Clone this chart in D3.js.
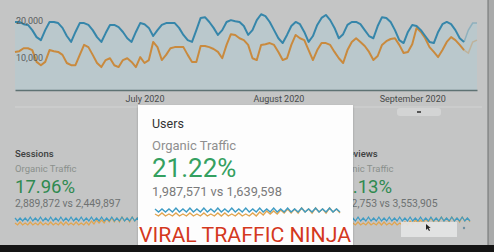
<!DOCTYPE html>
<html>
<head>
<meta charset="utf-8">
<script src="https://cdnjs.cloudflare.com/ajax/libs/d3/7.8.5/d3.min.js"></script>
<style>
    html, body { margin: 0; padding: 0; background: #c4c5c5; overflow: hidden; }
    #chart { width: 494px; height: 252px; }
    text { font-family: Roboto, "Noto Sans", sans-serif; }
</style>
</head>
<body>
<div id="chart"></div>
<script>

// ---- data ----
const startDay = "2020-06-01";
const endDay = "2020-09-16";
const monthTicks = ["2020-07-01", "2020-08-01", "2020-09-01"];
const yTicks = [10000, 20000];

// daily users, this period (blue) and previous period (orange)
const usersCurrent = [20300,20300,19700,19500,18100,16200,15400,18100,20300,20300,
    20000,18700,16500,14900,17600,20000,20000,19500,18100,16200,
    14900,17300,19500,19500,18900,17600,15900,14900,17600,20000,
    19700,18700,16500,18100,19500,20000,20000,20000,18700,16800,
    15400,14900,18100,21400,21600,20300,18700,16800,18100,20300,
    20800,20500,20300,19200,16800,18100,20800,22400,21900,20300,
    18100,15900,14600,16800,19200,20300,19700,17600,14900,16500,
    19500,21400,22200,20800,18700,15900,17000,19500,20300,20300,
    19700,18100,16500,15900,19200,21600,21400,20300,18100,15400,
    14600,17600,19500,19200,18100,16500,14900,14600,17600,19700,
    20300,19700,18100,15900,14900,18100,20000,20000];
const usersPrevious = [12200,12400,13200,13200,12700,9500,8600,9500,12700,12400,
    12200,11400,9200,8600,8600,11400,14100,13500,11400,9200,
    8100,10000,10500,8600,8100,10000,10500,9500,8100,10800,
    9200,10000,14900,13500,10000,11400,13200,13500,13500,13500,
    11400,9500,9500,13800,13800,13500,13000,12200,10500,14100,
    17000,16800,15900,15400,14100,10500,10000,14100,14300,14600,
    14100,12200,10000,10500,14100,16800,15900,15400,12700,10000,
    12700,14600,14600,14100,12200,10500,9200,12700,14900,15900,
    14900,13800,12200,10000,11100,14100,15100,15700,15900,14100,
    11900,12200,14300,18700,17600,15900,13500,12200,10800,12700,
    14900,16200,15400,14100,12700,11900,14900,15400];
const completeDays = 105; // the last days are still partial (faded)

// sparklines in the metric cards
const sparkCurrent = [19,16,19,16,19,16,20,16,19,16,20,16,19,16,20,16,19,16,20,16,
    19,16,20,16,19,16,20,16,19,16,20,16,19,16,20,16,19,16,20,16,
    19,16,20,16,19,16,20,16,19,16,20,16,19,16];
const sparkPrevious = [14,12,15,12,14,12,15,12,14,12,15,12,14,12,15,12,14,12,15,12,
    15,12,14,12,15,12,14,12,15,12,16,13,17,14,17,14,18,15,19,15,
    19,15,20,16,19,15,20,16,19,15,20,16,19,15];

const metricNames = ["Sessions", "Users", "Pageviews"];
const metricSegment = ["Organic Traffic", "Organic Traffic", "Organic Traffic"];
const metricChange = ["17.96%", "21.22%", "23.13%"];
const metricCompare = ["2,889,872 vs 2,449,897", "1,987,571 vs 1,639,598", "4,372,753 vs 3,553,905"];


class TrafficVis {

    constructor(parentElement) {
        this.parentElement = parentElement;
        this.initVis();
    }

    initVis() {
        let vis = this;
        vis.width = 494;
        vis.height = 252;

        vis.svg = d3.select("#" + vis.parentElement).append("svg")
            .attr("width", vis.width)
            .attr("height", vis.height);

        let defs = vis.svg.append("defs");
        defs.append("filter").attr("id", "shadow")
            .attr("x", "-10%").attr("y", "-10%").attr("width", "120%").attr("height", "120%")
            .append("feDropShadow")
            .attr("dx", 0).attr("dy", 1).attr("stdDeviation", 1.2)
            .attr("flood-color", "#000").attr("flood-opacity", 0.25);

        let parse = d3.timeParse("%Y-%m-%d");
        let start = parse(startDay);
        vis.data = usersCurrent.map((v, i) => ({
            date: d3.timeDay.offset(start, i),
            current: v,
            previous: usersPrevious[i]
        }));

        vis.x = d3.scaleTime()
            .domain([start, parse(endDay)])
            .range([15, 477]);

        vis.y = d3.scaleLinear()
            .domain([1900, 23000])
            .range([90, 12]);

        vis.monthDates = monthTicks.map(parse);

        vis.drawMain();
        vis.drawPanels();
        vis.drawFrame();
    }

    drawMain() {
        let vis = this;

        let area = d3.area()
            .x(d => vis.x(d.date))
            .y0(vis.y.range()[0])
            .y1(d => vis.y(d.current));

        vis.svg.append("path")
            .datum(vis.data)
            .attr("d", area)
            .attr("fill", "#bac8cc");

        // separator under the month labels
        vis.svg.append("line")
            .attr("x1", 15).attr("x2", 482)
            .attr("y1", 107).attr("y2", 107)
            .attr("stroke", "#d2d3d3")
            .attr("stroke-width", 1);

        let line = (key) => d3.line()
            .x(d => vis.x(d.date))
            .y(d => vis.y(d[key]));

        let solid = vis.data.slice(0, completeDays);
        let partial = vis.data.slice(completeDays - 1);

        [["previous", "#c98a3e"], ["current", "#3686aa"]].forEach(([key, color]) => {
            vis.svg.append("path")
                .datum(solid)
                .attr("d", line(key))
                .attr("fill", "none")
                .attr("stroke", color)
                .attr("stroke-width", 2)
                .attr("stroke-linejoin", "round");

            vis.svg.append("path")
                .datum(partial)
                .attr("d", line(key))
                .attr("fill", "none")
                .attr("stroke", color)
                .attr("stroke-opacity", 0.35)
                .attr("stroke-width", 1.5);
        });

        // x axis
        let xAxis = d3.axisBottom(vis.x)
            .tickValues(vis.monthDates)
            .tickSize(0)
            .tickPadding(6)
            .tickFormat(d3.timeFormat("%B %Y"));

        let gx = vis.svg.append("g")
            .attr("class", "xAxis")
            .attr("transform", `translate(0, ${vis.y.range()[0]})`)
            .call(xAxis);
        gx.select(".domain")
            .attr("stroke", "#5e7273")
            .attr("stroke-width", 1.5);
        gx.selectAll("text")
            .attr("fill", "#474a4a")
            .style("font-size", "9px");

        // y axis labels sit inside the plot
        let yAxis = d3.axisLeft(vis.y)
            .tickValues(yTicks)
            .tickSize(0)
            .tickFormat(d3.format(","));

        let gy = vis.svg.append("g")
            .attr("class", "yAxis")
            .attr("transform", "translate(16, 0)")
            .call(yAxis);
        gy.select(".domain").remove();
        gy.selectAll("text")
            .attr("x", 0)
            .attr("dy", "0.1em")
            .attr("text-anchor", "start")
            .attr("fill", "#5a5d5d")
            .style("font-size", "9px");

        // small scroll handle under september
        vis.svg.append("rect")
            .attr("x", 397).attr("y", 108)
            .attr("width", 44).attr("height", 8)
            .attr("rx", 3)
            .attr("fill", "#d3d4d4");
        vis.svg.append("rect")
            .attr("x", 417).attr("y", 111)
            .attr("width", 4).attr("height", 2)
            .attr("fill", "#555");
    }

    drawSpark(g, x0, x1, yBottom, yTop, lw) {
        let sx = d3.scaleLinear()
            .domain([0, sparkCurrent.length - 1])
            .range([x0, x1]);
        let sy = d3.scaleLinear()
            .domain([6, 22])
            .range([yBottom, yTop]);

        let l = (arr) => d3.line()
            .x((d, i) => sx(i))
            .y(d => sy(d))(arr);

        g.append("path")
            .attr("d", l(sparkPrevious))
            .attr("fill", "none")
            .attr("stroke", "#e0a550")
            .attr("stroke-width", lw);
        g.append("path")
            .attr("d", l(sparkCurrent))
            .attr("fill", "none")
            .attr("stroke", "#3f9cc4")
            .attr("stroke-width", lw);
    }

    drawPanel(i, x, rows, spark, big, colors) {
        let vis = this;
        let g = vis.svg.append("g").attr("class", "panel");

        g.append("text")
            .attr("x", x).attr("y", rows[0])
            .attr("fill", colors.name)
            .style("font-size", big ? "12.5px" : "9.5px")
            .style("font-weight", big ? 400 : 500)
            .text(metricNames[i]);

        g.append("text")
            .attr("x", x).attr("y", rows[1])
            .attr("fill", colors.segment)
            .style("font-size", big ? "13px" : "9.5px")
            .text(metricSegment[i]);

        g.append("text")
            .attr("x", x).attr("y", rows[2])
            .attr("fill", colors.change)
            .style("font-size", big ? "26px" : "18.5px")
            .text(metricChange[i]);

        g.append("text")
            .attr("x", x).attr("y", rows[3])
            .attr("fill", colors.compare)
            .style("font-size", big ? "12.8px" : "10.4px")
            .text(metricCompare[i]);

        vis.drawSpark(g, spark[0], spark[1], spark[2], spark[3], big ? 1.4 : 1.2);
    }

    drawPanels() {
        let vis = this;
        let dim = {name: "#3d4040", segment: "#8a908c", change: "#2f8a50", compare: "#6e7272"};

        vis.drawPanel(0, 15, [157, 172, 193, 207], [15, 150, 231, 215], false, dim);
        vis.drawPanel(2, 332, [157, 172, 193, 207], [332, 470, 231, 215], false, dim);

        // the selected card
        vis.svg.append("rect")
            .attr("x", 138).attr("y", 105)
            .attr("width", 215).attr("height", 141)
            .attr("fill", "#fdfdfd")
            .attr("filter", "url(#shadow)");

        vis.drawPanel(1, 152, [128, 150, 177, 196], [155, 340, 222, 206], true,
            {name: "#333", segment: "#8f8f8f", change: "#34a060", compare: "#7a7a7a"});

        // hover box + pointer over the pageviews sparkline
        vis.svg.append("rect")
            .attr("x", 401).attr("y", 222)
            .attr("width", 56).attr("height", 15)
            .attr("fill", "#e4e4e4")
            .attr("opacity", 0.9);
        vis.svg.append("path")
            .attr("d", "M426,224 l0,6 l1.5,-1.5 l1.5,2.5 l1,-0.5 l-1.3,-2.4 l2,0 z")
            .attr("fill", "#222");
        vis.svg.append("circle")
            .attr("cx", 464).attr("cy", 228).attr("r", 1.2)
            .attr("fill", "#6f8fa0");
    }

    drawFrame() {
        let vis = this;

        // watermark
        vis.svg.append("text")
            .attr("x", 139).attr("y", 242)
            .attr("textLength", 212)
            .attr("lengthAdjust", "spacingAndGlyphs")
            .attr("fill", "#d4391e")
            .attr("stroke", "#fff")
            .attr("stroke-width", 2)
            .attr("paint-order", "stroke")
            .style("font-size", "19.5px")
            .style("font-weight", 400)
            .text("VIRAL TRAFFIC NINJA");

        vis.svg.append("rect")
            .attr("x", 488).attr("y", 0)
            .attr("width", 6).attr("height", vis.height)
            .attr("fill", "#a9aaaa");
        vis.svg.append("line")
            .attr("x1", 488).attr("x2", 488)
            .attr("y1", 0).attr("y2", vis.height)
            .attr("stroke", "#6f7070");

        vis.svg.append("rect")
            .attr("x", 0).attr("y", 245)
            .attr("width", vis.width).attr("height", 7)
            .attr("fill", "#141414");
    }
}

new TrafficVis("chart");
</script>
</body>
</html>
